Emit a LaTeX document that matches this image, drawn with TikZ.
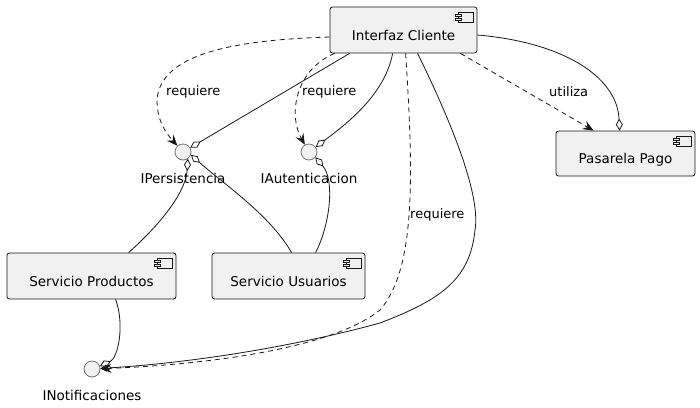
\documentclass[tikz,border=0pt]{standalone}
\usepackage{fontspec}
\setmainfont{DejaVu Sans}
\usetikzlibrary{arrows.meta,calc}
\definecolor{fillc}{HTML}{F1F1F1}
\definecolor{linec}{HTML}{181818}
\tikzset{
  comp/.style={draw=linec, fill=fillc, rounded corners=2.5pt, line width=0.8pt,
    inner sep=0pt, text height=20pt, text depth=0pt, font=\fontsize{13.5}{16}\selectfont},
  iface/.style={circle, draw=black!55, fill=fillc, line width=0.8pt, minimum size=16pt, inner sep=0pt},
  ilabel/.style={inner sep=0pt, font=\fontsize{13.5}{16}\selectfont},
  elabel/.style={inner sep=0pt, anchor=west, font=\fontsize{13}{15}\selectfont},
  dep/.style={draw=linec, line width=0.8pt, dash pattern=on 5pt off 4pt,
    -{Stealth[length=11pt,width=9pt,inset=4pt]}},
  agg/.style={draw=linec, line width=0.8pt, {Diamond[open,length=12pt,width=7pt,line width=0.8pt]}-},
}
\newcommand{\compicon}[1]{%
  \draw[linec, line width=0.6pt, fill=fillc] ($(#1.north east)+(-19,6)$) rectangle ($(#1.north east)+(-4,16)$);
  \draw[linec, line width=0.6pt, fill=fillc] ($(#1.north east)+(-22,8)$) rectangle ($(#1.north east)+(-16,10)$);
  \draw[linec, line width=0.6pt, fill=fillc] ($(#1.north east)+(-22,12)$) rectangle ($(#1.north east)+(-16,14)$);
}
\begin{document}
\begin{tikzpicture}[x=1pt,y=-1pt]
\useasboundingbox[fill=white] (0,0) rectangle (700,407);
% components
\node[comp, minimum width=147pt, minimum height=46pt] (IC) at (403.5,30) {Interfaz Cliente};
\node[comp, minimum width=139pt, minimum height=45pt] (PP) at (625.5,153.5) {Pasarela Pago};
\node[comp, minimum width=169pt, minimum height=46pt] (SP) at (91.5,276) {Servicio Productos};
\node[comp, minimum width=153pt, minimum height=46pt] (SU) at (288.5,276) {Servicio Usuarios};
\compicon{IC}
\compicon{PP}
\compicon{SP}
\compicon{SU}
% interfaces
\node[iface] (IPers) at (183,152) {};
\node[iface] (IAut) at (309,152) {};
\node[iface] (INot) at (92,369) {};
\node[ilabel] (IPersL) at (183,178) {IPersistencia};
\node[ilabel] (IAutL) at (309,178) {IAutenticacion};
\node[ilabel] (INotL) at (92,395) {INotificaciones};
% dependencies
\draw[dep] ($(IC.west)+(0,7)$) .. controls (230,40) and (160,55) .. (157,100)
  .. controls (157,120) and (165,132) .. (IPers);
\node[elabel] (l1) at (166,92) {requiere};
\draw[dep] ($(IC.south west)+(5,0)$) .. controls (295,70) and (288,115) .. (IAut);
\node[elabel] (l2) at (302,92) {requiere};
\draw[dep] ($(IC.south west)+(76,0)$) .. controls (414,180) and (415,270) .. (380,310)
  .. controls (330,350) and (200,365) .. (INot);
\node[elabel] (l3) at (410,215) {requiere};
\draw[dep] ($(IC.south east)+(-17,0)$) -- ($(PP.north west)+(38,0)$);
\node[elabel] (l4) at (549,92) {utiliza};
% aggregations
\draw[agg] (IPers) -- ($(IC.south west)+(20,0)$);
\draw[agg] (IAut) .. controls (345,125) and (385,95) .. ($(IC.south west)+(63,0)$);
\draw[agg] (INot) .. controls (200,362) and (300,345) .. (380,323)
  .. controls (440,300) and (470,280) .. (475,230)
  .. controls (480,200) and (460,140) .. ($(IC.south west)+(88,0)$);
\draw[agg] ($(PP.north west)+(64,0)$) .. controls (617,75) and (560,42) .. ($(IC.east)+(0,5)$);
\draw[agg] (IPers.-55) .. controls (186,190) and (165,220) .. ($(SP.north west)+(122,0)$);
\draw[agg] (IPers.-20) .. controls (225,185) and (270,215) .. ($(SU.north west)+(80,0)$);
\draw[agg] (IAut.-40) .. controls (335,180) and (330,225) .. ($(SU.north west)+(104,0)$);
\draw[agg] (INot.20) .. controls (118,358) and (125,325) .. ($(SP.south west)+(109,0)$);
\end{tikzpicture}
\end{document}
